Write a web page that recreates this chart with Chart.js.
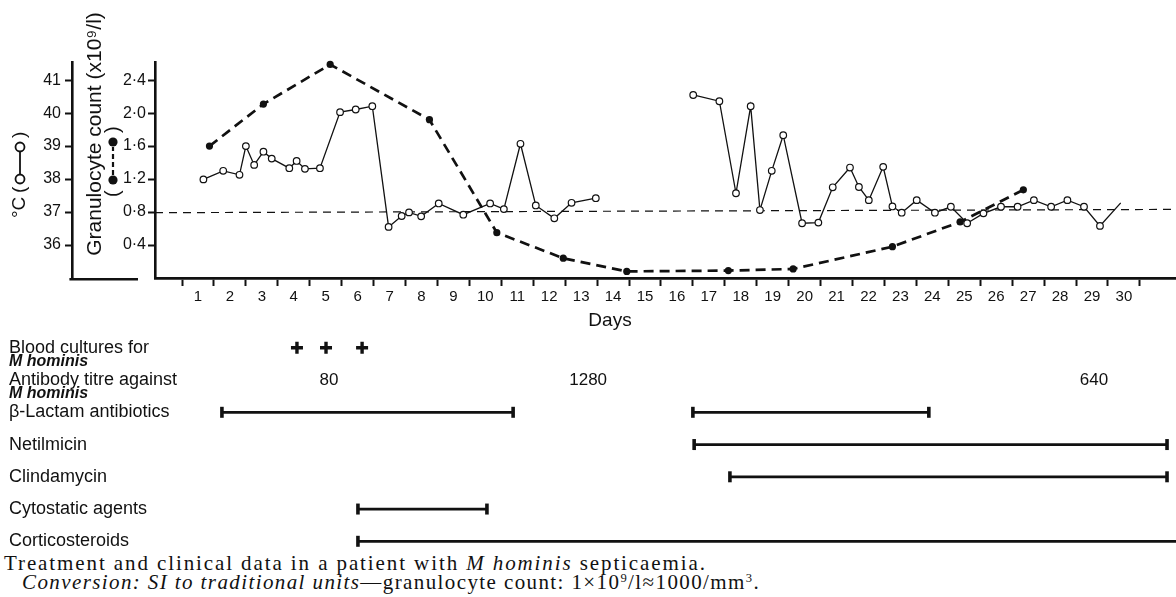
<!DOCTYPE html>
<html><head><meta charset="utf-8">
<script src="https://cdn.jsdelivr.net/npm/chart.js@4.4.1/dist/chart.umd.min.js"></script>
<style>
html,body{margin:0;padding:0;background:#fff;}
#wrap{position:relative;width:1176px;height:597px;overflow:hidden;background:#fff;}
#c1{position:absolute;left:0;top:0;}
#c2{position:absolute;left:0;top:330px;}
#caption{position:absolute;left:4px;top:554px;font-family:"Liberation Serif","Times New Roman",serif;font-size:21px;line-height:19px;color:#111;white-space:nowrap;}
#caption sup{font-size:0.6em;line-height:0;vertical-align:0.55em;}
#cap1{letter-spacing:1.9px;}
#cap2{letter-spacing:1.4px;padding-left:18px;}
</style></head>
<body><div id="wrap">
<canvas id="c1" width="1176" height="330"></canvas>
<canvas id="c2" width="1176" height="220"></canvas>
<div id="caption"><div id="cap1">Treatment and clinical data in a patient with <i>M hominis</i> septicaemia.</div><div id="cap2"><i>Conversion: SI to traditional units</i>—granulocyte count: 1×10<sup>9</sup>/l≈1000/mm<sup>3</sup>.</div></div>
</div>
<script>
// ---------- data ----------
const dayLabels = ['1','2','3','4','5','6','7','8','9','10','11','12','13','14','15','16','17','18','19','20','21','22','23','24','25','26','27','28','29','30'];
const tempTicks = [36, 37, 38, 39, 40, 41];
const granTicks = [0.4, 0.8, 1.2, 1.6, 2.0, 2.4];

// body temperature (°C); null = no readings (gap)
const tempDays = [0.67,1.29,1.80,2.00,2.26,2.55,2.81,3.36,3.59,3.85,4.32,4.95,5.44,5.96,6.47,6.88,7.11,7.49,8.04,8.81,9.65,10.08,10.60,11.08,11.66,12.20,12.96,
  14.50,
  16.01,16.83,17.35,17.81,18.10,18.47,18.83,19.42,19.93,20.38,20.92,21.20,21.51,21.96,22.25,22.54,23.01,23.58,24.08,24.59,25.10,25.65,26.17,26.68,27.22,27.73,28.25,28.75,29.40];
const tempValues = [37.99,38.25,38.13,39.00,38.43,38.83,38.62,38.33,38.55,38.31,38.33,40.03,40.11,40.21,36.55,36.88,36.99,36.87,37.26,36.92,37.26,37.09,39.07,37.20,36.81,37.28,37.42,
  null,
  40.55,40.36,37.57,40.21,37.06,38.25,39.33,36.66,36.68,37.75,38.35,37.76,37.36,38.37,37.17,36.98,37.36,36.98,37.16,36.66,36.96,37.16,37.16,37.36,37.16,37.36,37.16,36.58,37.28];

// granulocyte count (x10^9/l)
const granDays = [0.86, 2.55, 4.64, 7.75, 9.86, 11.94, 13.93, 17.11, 19.14, 22.25, 24.37, 26.35];
const granValues = [1.60, 2.11, 2.59, 1.92, 0.55, 0.24, 0.08, 0.09, 0.11, 0.38, 0.68, 1.07];

// normal temperature reference line (°C at left and right ends)
const normalTemp = [36.98, 37.08];

// table below the chart
const rowLabels = [
  ['Blood cultures for', 'M hominis'],
  ['Antibody titre against', 'M hominis'],
  ['β-Lactam antibiotics'],
  ['Netilmicin'],
  ['Clindamycin'],
  ['Cytostatic agents'],
  ['Corticosteroids']
];
const bloodCultureDays = [3.60, 4.51, 5.64];
const titreDays = [4.60, 12.72, 28.56];
const titreValues = ['80', '1280', '640'];
const segRow   = [2, 2, 3, 4, 5, 6];
const segStart = [1.25, 16.00, 16.04, 17.16, 5.51, 5.51];
const segEnd   = [10.37, 23.39, 30.85, 30.85, 9.55, 31.8];

// ---------- layout / style ----------
const INK = '#111';
const SANS = '"Liberation Sans", "DejaVu Sans", sans-serif';
const X_MIN = -0.846, X_MAX = 31.131;
Chart.defaults.font.family = SANS;
Chart.defaults.color = INK;

const titlesPlugin = {
  id: 'axisTitles',
  afterDraw(chart) {
    const ctx = chart.ctx, area = chart.chartArea, t = chart.scales.temp;
    ctx.save();
    ctx.fillStyle = INK; ctx.strokeStyle = INK;
    // foot of the temperature axis
    ctx.lineWidth = 2.6;
    ctx.beginPath(); ctx.moveTo(t.right - 2.6, area.bottom + 1.3); ctx.lineTo(138, area.bottom + 1.3); ctx.stroke();

    // °C title with its open-circle symbol
    ctx.save();
    ctx.translate(20, 218); ctx.rotate(-Math.PI / 2);
    ctx.font = '19px ' + SANS; ctx.textBaseline = 'middle'; ctx.textAlign = 'left';
    ctx.fillText('°C', 0, 0);
    ctx.fillText('(', 25, 0);
    ctx.lineWidth = 1.8;
    ctx.beginPath(); ctx.moveTo(43.5, 0); ctx.lineTo(66.5, 0); ctx.stroke();
    [39, 71].forEach(c => { ctx.beginPath(); ctx.arc(c, 0, 4.5, 0, Math.PI * 2); ctx.fillStyle = '#fff'; ctx.fill(); ctx.stroke(); });
    ctx.fillStyle = INK;
    ctx.fillText(')', 80, 0);
    ctx.restore();

    // Granulocyte title
    ctx.save();
    ctx.translate(95, 134); ctx.rotate(-Math.PI / 2);
    ctx.font = '21px ' + SANS; ctx.textBaseline = 'middle'; ctx.textAlign = 'center';
    ctx.fillText('Granulocyte count (x10⁹/l)', 0, 0);
    ctx.restore();

    // filled-circle dashed symbol
    ctx.save();
    ctx.translate(113, 197); ctx.rotate(-Math.PI / 2);
    ctx.font = '20px ' + SANS; ctx.textBaseline = 'middle'; ctx.textAlign = 'left';
    ctx.fillText('(', 0, 0);
    ctx.lineWidth = 2.2; ctx.setLineDash([5, 3]);
    ctx.beginPath(); ctx.moveTo(22, 0); ctx.lineTo(50, 0); ctx.stroke();
    ctx.setLineDash([]);
    [17, 55].forEach(c => { ctx.beginPath(); ctx.arc(c, 0, 4.6, 0, Math.PI * 2); ctx.fill(); });
    ctx.fillText(')', 64, 0);
    ctx.restore();

    // Days
    ctx.font = '19px ' + SANS; ctx.textAlign = 'center'; ctx.textBaseline = 'middle';
    ctx.fillText('Days', 610, 321);
    ctx.restore();
  }
};

const xTickValues = [];
dayLabels.forEach((lab, i) => { xTickValues.push(i); xTickValues.push(i + 0.5); });
xTickValues.push(dayLabels.length);

const axisGrid = { drawOnChartArea: false, drawTicks: true, tickLength: 7, tickWidth: 2, tickColor: INK };

new Chart(document.getElementById('c1'), {
  type: 'line',
  data: {
    datasets: [
      {
        label: 'Temperature', yAxisID: 'temp',
        data: tempDays.map((d, i) => ({ x: d, y: tempValues[i] })),
        borderColor: INK, borderWidth: 1.3, tension: 0, spanGaps: false,
        pointRadius: c => (c.dataIndex === tempDays.length - 1 ? 0 : 3.3),
        pointBackgroundColor: '#fff', pointBorderColor: INK, pointBorderWidth: 1.2,
        clip: false
      },
      {
        label: 'Granulocyte count', yAxisID: 'gran',
        data: granDays.map((d, i) => ({ x: d, y: granValues[i] })),
        borderColor: INK, borderWidth: 2.7, borderDash: [10, 6], tension: 0,
        pointRadius: 3.6, pointBackgroundColor: INK, pointBorderColor: INK, pointBorderWidth: 0,
        clip: false
      },
      {
        label: 'Normal', yAxisID: 'temp',
        data: [{ x: X_MIN, y: normalTemp[0] }, { x: X_MAX, y: normalTemp[1] }],
        borderColor: INK, borderWidth: 1.2, borderDash: [8, 6], pointRadius: 0
      }
    ]
  },
  options: {
    responsive: false, animation: false, devicePixelRatio: 1, events: [],
    layout: { autoPadding: false, padding: { top: 62, left: 0, right: 0, bottom: 0 } },
    plugins: { legend: { display: false }, tooltip: { enabled: false } },
    scales: {
      x: {
        type: 'linear', position: 'bottom', min: X_MIN, max: X_MAX,
        afterBuildTicks: s => { s.ticks = xTickValues.map(v => ({ value: v })); },
        afterFit: s => { s.height = 52; },
        ticks: {
          autoSkip: false, maxRotation: 0, minRotation: 0, padding: 2, color: INK,
          font: { size: 15 },
          callback: v => (Number.isInteger(v) ? '' : dayLabels[Math.floor(v)])
        },
        grid: {
          drawOnChartArea: false, drawTicks: true, tickLength: 8, tickWidth: 2,
          tickColor: c => (c.tick && Number.isInteger(c.tick.value) ? INK : 'rgba(0,0,0,0)')
        },
        border: { display: true, color: INK, width: 2.8 }
      },
      temp: {
        type: 'linear', position: 'left', weight: 1, min: 35, max: 41.55,
        afterBuildTicks: s => { s.ticks = tempTicks.map(v => ({ value: v })); },
        afterFit: s => { s.width = 72; },
        ticks: { padding: 4, color: INK, font: { size: 16 }, callback: v => String(v) },
        grid: axisGrid,
        border: { display: true, color: INK, width: 2.6 }
      },
      gran: {
        type: 'linear', position: 'left', weight: 0, min: 0, max: 2.62,
        afterBuildTicks: s => { s.ticks = granTicks.map(v => ({ value: v })); },
        afterFit: s => { s.width = 83; },
        ticks: { padding: 2, color: INK, font: { size: 16 }, callback: v => v.toFixed(1).replace('.', '·') },
        grid: axisGrid,
        border: { display: true, color: INK, width: 2.6 }
      }
    }
  },
  plugins: [titlesPlugin]
});

// ---------- table chart ----------
const tablePlugin = {
  id: 'tableText',
  afterDatasetsDraw(chart) {
    const ctx = chart.ctx, ys = chart.scales.rows;
    ctx.save();
    ctx.fillStyle = INK; ctx.textBaseline = 'middle'; ctx.textAlign = 'left';
    rowLabels.forEach((lines, i) => {
      const py = ys.getPixelForValue(i);
      ctx.font = '18px ' + SANS;
      ctx.fillText(lines[0], 9, py);
      if (lines[1]) { ctx.font = 'italic bold 16px ' + SANS; ctx.fillText(lines[1], 9, py + 13.5); }
    });
    const meta = chart.getDatasetMeta(1);
    ctx.font = '17px ' + SANS; ctx.textAlign = 'center';
    meta.data.forEach((pt, i) => ctx.fillText(titreValues[i], pt.x, pt.y));
    ctx.restore();
  }
};

const tableDatasets = [
  {
    label: 'Blood cultures', yAxisID: 'rows', showLine: false,
    data: bloodCultureDays.map(d => ({ x: d, y: 0 })),
    pointStyle: 'cross', pointRadius: 6, pointBorderWidth: 3.4, pointBorderColor: INK, borderColor: INK
  },
  {
    label: 'Antibody titre', yAxisID: 'rows', showLine: false,
    data: titreDays.map(d => ({ x: d, y: 1 })), pointRadius: 0
  }
].concat(segStart.map((s, i) => ({
  label: rowLabels[segRow[i]][0], yAxisID: 'rows',
  data: [{ x: s, y: segRow[i] }, { x: segEnd[i], y: segRow[i] }],
  borderColor: INK, borderWidth: 2.7, tension: 0,
  pointStyle: 'line', pointRotation: 90, pointRadius: 5.5, pointBorderWidth: 3.6, pointBorderColor: INK
})));

new Chart(document.getElementById('c2'), {
  type: 'line',
  data: { datasets: tableDatasets },
  options: {
    responsive: false, animation: false, devicePixelRatio: 1, events: [],
    layout: { autoPadding: false, padding: { top: 0, left: 155, right: 0, bottom: 0 } },
    plugins: { legend: { display: false }, tooltip: { enabled: false } },
    scales: {
      x: { type: 'linear', min: X_MIN, max: X_MAX, display: false },
      rows: { type: 'linear', position: 'left', reverse: true, min: -0.552, max: 6.27, display: false }
    }
  },
  plugins: [tablePlugin]
});
</script>
</body></html>
